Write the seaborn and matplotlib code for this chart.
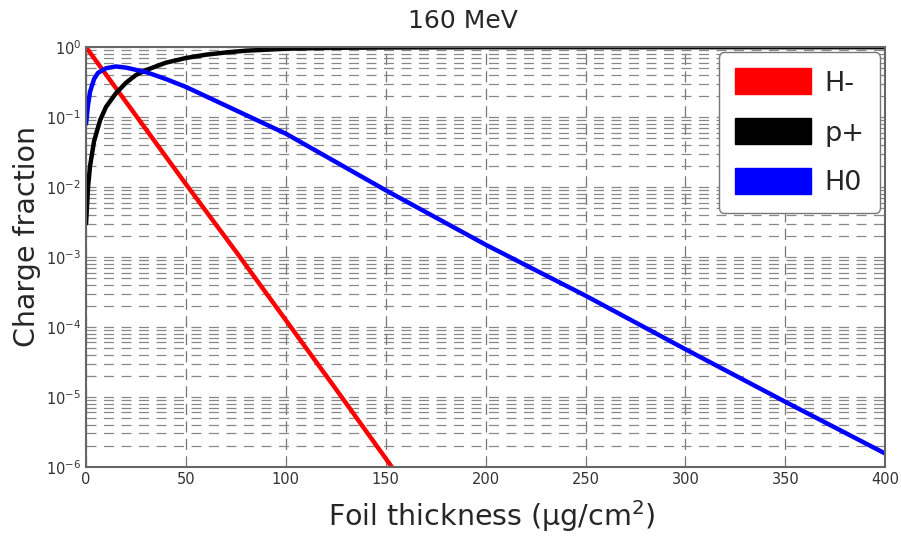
import numpy as np
import pandas as pd
import matplotlib
matplotlib.use("Agg")
import matplotlib.pyplot as plt
import seaborn as sns
from matplotlib.patches import Patch
from matplotlib.ticker import LogLocator, LogFormatterMathtext, MultipleLocator

# values
hminus_x = [0, 25, 50, 75, 100, 125, 153]
hminus_y = [1.0, 0.105, 1.1e-2, 1.2e-3, 1.25e-4, 1.3e-5, 1.0e-6]

pplus_x = [0, 1, 2, 4, 7, 10, 15, 20, 25, 30, 40, 50, 60, 70, 80, 100, 125, 150, 200, 300, 400]
pplus_y = [3.0e-3, 1.0e-2, 2.0e-2, 4.5e-2, 0.09, 0.14, 0.22, 0.31, 0.40, 0.47, 0.60, 0.70,
           0.78, 0.84, 0.89, 0.95, 0.98, 0.99, 1.0, 1.0, 1.0]

h0_x = [0, 1, 2, 4, 6, 10, 15, 20, 30, 40, 50, 75, 100, 150, 200, 250, 300, 350, 400]
h0_y = [0.08, 0.15, 0.23, 0.35, 0.43, 0.50, 0.53, 0.51, 0.44, 0.35, 0.27, 0.125, 0.058,
        9.0e-3, 1.5e-3, 2.8e-4, 4.8e-5, 8.5e-6, 1.55e-6]

labels = ["H-", "p+", "H0"]
colors = {"H-": "#ff0000", "p+": "#000000", "H0": "#0000ff"}

df = pd.concat([
    pd.DataFrame({"x": hminus_x, "y": hminus_y, "s": "H-"}),
    pd.DataFrame({"x": pplus_x, "y": pplus_y, "s": "p+"}),
    pd.DataFrame({"x": h0_x, "y": h0_y, "s": "H0"}),
])

sns.set_style("white")
fig = plt.figure(figsize=(9.01, 5.36), dpi=100)
ax = fig.add_axes([0.0955, 0.129, 0.887, 0.783])

sns.lineplot(data=df, x="x", y="y", hue="s", palette=colors, hue_order=labels,
             linewidth=3.2, legend=False, ax=ax, sort=False)

ax.set_yscale("log")
ax.set_xlim(0, 400)
ax.set_ylim(1e-6, 1)
ax.xaxis.set_major_locator(MultipleLocator(50))
ax.yaxis.set_major_locator(LogLocator(base=10, numticks=10))
ax.yaxis.set_minor_locator(LogLocator(base=10, subs=np.arange(2, 10), numticks=20))
ax.yaxis.set_major_formatter(LogFormatterMathtext())
ax.tick_params(axis="both", which="both", direction="in", labelsize=10.5, colors="#333333")
ax.tick_params(axis="y", which="minor", length=3)
ax.tick_params(axis="both", which="major", length=5)

ax.grid(True, which="major", axis="x", linestyle=(0, (9, 5)), color="#777777", linewidth=0.9)
ax.grid(True, which="both", axis="y", linestyle=(0, (8, 6)), color="#888888", linewidth=0.9)
for sp in ax.spines.values():
    sp.set_color("#666666")
    sp.set_linewidth(1.5)

ax.set_xlabel("Foil thickness (µg/cm$^2$)", fontsize=20.5, va="center")
ax.xaxis.set_label_coords(0.507, -0.117)
ax.set_ylabel("Charge fraction", fontsize=20.5, va="center")
ax.yaxis.set_label_coords(-0.074, 0.55)
fig.text(463 / 901, 1 - 21 / 536, "160 MeV", fontsize=18, ha="center", va="center")

handles = [Patch(facecolor=colors[k], edgecolor=colors[k], label=k) for k in labels]
leg = ax.legend(handles=handles, loc="upper right", fontsize=19.5, handlelength=2.8,
                handleheight=1.1, labelspacing=0.8, handletextpad=0.5, borderpad=0.6,
                borderaxespad=0, framealpha=1, edgecolor="#777777", fancybox=True,
                bbox_to_anchor=(0.994, 0.988))

fig.savefig("out.png", dpi=100)
